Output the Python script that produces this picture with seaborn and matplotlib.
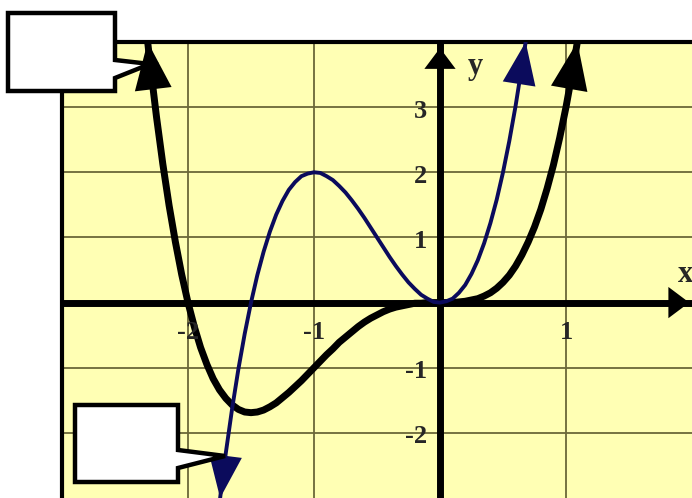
import matplotlib
matplotlib.use("Agg")
import matplotlib.pyplot as plt
import seaborn as sns
from matplotlib.patches import Polygon

# curve readings (x, y)
black_x = [-2.32, -2.3, -2.25, -2.2, -2.15, -2.1, -2.05, -2.0,
           -1.95, -1.9, -1.85, -1.8, -1.75, -1.7, -1.65, -1.6, -1.55, -1.5,
           -1.45, -1.4, -1.35, -1.3, -1.25, -1.2, -1.15, -1.1, -1.05, -1.0,
           -0.95, -0.9, -0.85, -0.8, -0.75, -0.7, -0.65, -0.6, -0.55, -0.5,
           -0.45, -0.4, -0.35, -0.3, -0.25, -0.2, -0.15, -0.1, -0.05, 0.0,
           0.05, 0.1, 0.15, 0.2, 0.25, 0.3, 0.35, 0.4, 0.45, 0.5,
           0.55, 0.6, 0.65, 0.7, 0.75, 0.8, 0.85, 0.9, 0.95, 1.0,
           1.05, 1.09]
black_y = [4.0, 3.65, 2.85, 2.13, 1.49, 0.93, 0.43, 0.0,
           -0.37, -0.69, -0.95, -1.17, -1.34, -1.47, -1.57, -1.64, -1.68, -1.69,
           -1.68, -1.65, -1.60, -1.54, -1.46, -1.38, -1.29, -1.20, -1.10, -1.0,
           -0.90, -0.80, -0.71, -0.61, -0.53, -0.45, -0.37, -0.30, -0.24, -0.19,
           -0.14, -0.10, -0.07, -0.05, -0.03, -0.01, -0.01, 0.0, 0.0, 0.0,
           0.0, 0.0, 0.01, 0.02, 0.04, 0.06, 0.10, 0.15, 0.22, 0.31,
           0.42, 0.56, 0.73, 0.93, 1.16, 1.43, 1.75, 2.11, 2.53, 3.0,
           3.53, 4.0]

navy_x = [-1.745, -1.725, -1.7, -1.65, -1.6, -1.55, -1.5,
          -1.45, -1.4, -1.35, -1.3, -1.25, -1.2, -1.15, -1.1, -1.05, -1.0,
          -0.95, -0.9, -0.85, -0.8, -0.75, -0.7, -0.65, -0.6, -0.55, -0.5,
          -0.45, -0.4, -0.35, -0.3, -0.25, -0.2, -0.15, -0.1, -0.05, 0.0,
          0.05, 0.1, 0.15, 0.2, 0.25, 0.3, 0.35, 0.4, 0.45, 0.5,
          0.55, 0.6, 0.65, 0.68]
navy_y = [-3.0, -2.68, -2.31, -1.63, -1.02, -0.48, 0.0,
          0.42, 0.78, 1.09, 1.35, 1.56, 1.73, 1.85, 1.94, 1.98, 2.0,
          1.99, 1.94, 1.88, 1.79, 1.69, 1.57, 1.44, 1.30, 1.15, 1.0,
          0.85, 0.70, 0.56, 0.43, 0.31, 0.21, 0.12, 0.06, 0.01, 0.0,
          0.02, 0.06, 0.15, 0.27, 0.44, 0.65, 0.91, 1.22, 1.58, 2.0,
          2.48, 3.02, 3.63, 4.0]

x_ticks = [-2, -1, 1]
y_ticks = [3, 2, 1, -1, -2]

YELLOW = "#ffffb4"
NAVY = "#0b0b5c"
GRID = "#6b6838"
serif = ["Liberation Serif", "DejaVu Serif"]

sns.set_style("white")
fig = plt.figure(figsize=(6.92, 4.98), dpi=100)
ax = fig.add_axes([62 / 692, 0, 630 / 692, 456 / 498])
ax.set_facecolor(YELLOW)
ax.set_xlim(-3, 2)
ax.set_ylim(-3, 4)

# grid at integer positions
ax.set_xticks([-2, -1, 0, 1])
ax.set_yticks([-2, -1, 0, 1, 2, 3])
ax.grid(True, color=GRID, linewidth=1.3)
ax.tick_params(length=0, labelbottom=False, labelleft=False)

for side in ["right", "bottom"]:
    ax.spines[side].set_visible(False)
for side in ["top", "left"]:
    ax.spines[side].set_linewidth(3)
    ax.spines[side].set_color("black")

# axes with arrows
ax.axhline(0, color="black", linewidth=5, zorder=3)
ax.axvline(0, color="black", linewidth=5, zorder=3)
ax.annotate("", xy=(0, 3.95), xytext=(0, 3.5),
            arrowprops=dict(arrowstyle="-|>,head_length=0.6,head_width=0.45",
                            color="black", lw=0, mutation_scale=25), zorder=4)
ax.annotate("", xy=(2.0, 0), xytext=(1.6, 0),
            arrowprops=dict(arrowstyle="-|>,head_length=0.6,head_width=0.45",
                            color="black", lw=0, mutation_scale=25), zorder=4)

# curves
sns.lineplot(x=black_x, y=black_y, sort=False, ax=ax, color="black", linewidth=5,
             solid_joinstyle="round", zorder=5)
sns.lineplot(x=navy_x, y=navy_y, sort=False, ax=ax, color=NAVY, linewidth=2.8,
             solid_joinstyle="round", zorder=6)


def head(xs, ys, i, j, color, scale):
    ax.annotate("", xy=(xs[i], ys[i]), xytext=(xs[j], ys[j]), annotation_clip=False,
                arrowprops=dict(arrowstyle="-|>,head_length=0.9,head_width=0.35",
                                color=color, lw=0, mutation_scale=scale,
                                shrinkA=0, shrinkB=0), zorder=7)


head(black_x, black_y, 0, 2, "black", 38)
head(black_x, black_y, -1, -3, "black", 38)
head(navy_x, navy_y, 0, 2, NAVY, 34)
head(navy_x, navy_y, -1, -2, NAVY, 34)

# tick labels
for v in y_ticks:
    ax.text(-0.1, v - 0.06, str(v), ha="right", va="center", fontsize=19,
            fontweight="bold", family=serif, zorder=8)
for v in x_ticks:
    ax.text(v, -0.46, str(v), ha="center", va="center", fontsize=19,
            fontweight="bold", family=serif, zorder=8)
ax.text(0.28, 3.62, "y", ha="center", va="center", fontsize=22,
        fontweight="bold", family=serif, zorder=8)
ax.text(1.95, 0.43, "x", ha="center", va="center", fontsize=22,
        fontweight="bold", family=serif, zorder=8)


# empty callout boxes (pixel positions of the reference image)
def callout(pts):
    verts = [(px / 692, 1 - py / 498) for px, py in pts]
    fig.add_artist(Polygon(verts, closed=True, facecolor="white", edgecolor="black",
                           linewidth=3.2, transform=fig.transFigure, clip_on=False,
                           zorder=10))


callout([(8, 13), (115, 13), (115, 60), (150, 64), (115, 78), (115, 91), (8, 91)])
callout([(75, 405), (178, 405), (178, 450), (225, 456), (178, 468), (178, 482), (75, 482)])

fig.savefig("out.png", dpi=100)
